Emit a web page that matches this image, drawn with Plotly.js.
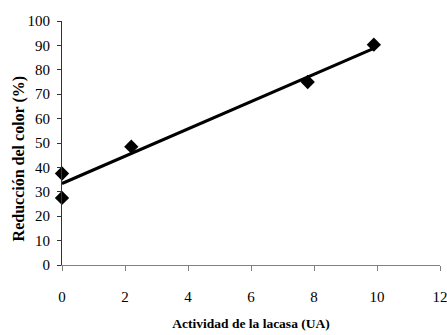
<!DOCTYPE html>
<html>
<head>
<meta charset="utf-8">
<script src="https://cdn.plot.ly/plotly-3.0.1.min.js"></script>
<style>html,body{margin:0;padding:0;background:#fff;}#chart{width:447px;height:335px;}</style>
</head>
<body>
<div id="chart"></div>
<script>
var activity = [0, 0, 2.2, 7.8, 9.9];
var colorReduction = [37.5, 27.5, 48.5, 75, 90.3];
var trendX = [0, 9.9];
var trendY = [33.4, 88.8];
var xTicks = [0, 2, 4, 6, 8, 10, 12];
var yTicks = [0, 10, 20, 30, 40, 50, 60, 70, 80, 90, 100];
var yTitle = 'Reducción del color (%)';
var xTitle = 'Actividad de la lacasa (UA)';

var serif = 'Liberation Serif, Times New Roman, serif';

var data = [
  {x: trendX, y: trendY, type: 'scatter', mode: 'lines',
   line: {color: '#000', width: 3}, hoverinfo: 'skip', showlegend: false},
  {x: activity, y: colorReduction, type: 'scatter', mode: 'markers',
   marker: {symbol: 'diamond', size: 11, color: '#000'}, showlegend: false, cliponaxis: false}
];

var layout = {
  width: 447, height: 335,
  margin: {l: 61.5, r: 7, t: 21, b: 70},
  paper_bgcolor: '#fff', plot_bgcolor: '#fff',
  showlegend: false,
  xaxis: {
    range: [0, 12], tickvals: xTicks, ticktext: xTicks.map(String),
    showgrid: false, zeroline: false, showline: true, linecolor: '#808080', linewidth: 1,
    ticks: 'outside', ticklen: 5, tickcolor: '#808080', ticklabelstandoff: 13,
    ticklabeloverflow: 'allow',
    tickfont: {family: serif, size: 15, color: '#000'},
    title: {text: '<b>' + xTitle + '</b>', font: {family: serif, size: 13.5, color: '#000'}, standoff: 14}
  },
  yaxis: {
    range: [0, 100], tickvals: yTicks, ticktext: yTicks.map(String),
    showgrid: false, zeroline: false, showline: true, linecolor: '#333', linewidth: 1,
    ticks: 'outside', ticklen: 4, tickcolor: '#333', ticklabelstandoff: 4,
    ticklabeloverflow: 'allow',
    tickfont: {family: serif, size: 15, color: '#000'}
  },
  annotations: [{
    text: '<b>' + yTitle + '</b>', textangle: -90, showarrow: false,
    xref: 'paper', yref: 'paper', x: -0.115, y: 0.435, xanchor: 'center', yanchor: 'middle',
    font: {family: serif, size: 16, color: '#000'}
  }]
};

Plotly.newPlot('chart', data, layout, {displayModeBar: false, staticPlot: true});
</script>
</body>
</html>
